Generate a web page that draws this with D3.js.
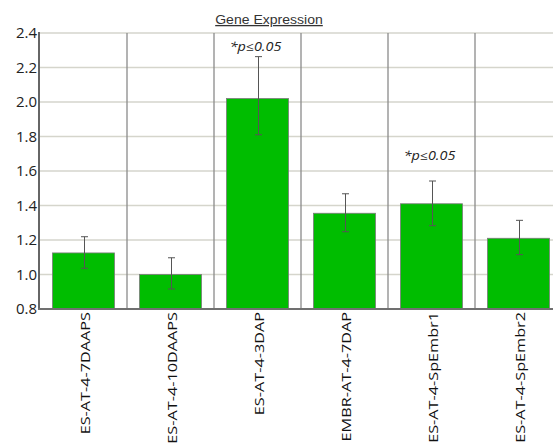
<!DOCTYPE html>
<html>
<head>
<meta charset="utf-8">
<script src="https://cdn.jsdelivr.net/npm/d3@7"></script>
<style>
  html, body { margin: 0; padding: 0; background: #fff; }
  svg { display: block; }
</style>
</head>
<body>
<svg id="chart" width="553" height="445"></svg>
<script>
// Relative expression per sample, with error bar bounds
const categories = ["ES-AT-4-7DAAPS", "ES-AT-4-10DAAPS", "ES-AT-4-3DAP", "EMBR-AT-4-7DAP", "ES-AT-4-SpEmbr1", "ES-AT-4-SpEmbr2"];
const expression = [1.125, 1.0, 2.02, 1.355, 1.41, 1.21];
const errorLow  = [1.036, 0.916, 1.81, 1.248, 1.283, 1.115];
const errorHigh = [1.219, 1.097, 2.263, 1.468, 1.542, 1.314];
const significance = ["", "", "*p\u22640.05", "", "*p\u22640.05", ""];
const significanceLevel = [null, null, 2.296, null, 1.664, null];
const yTicks = [0.8, 1.0, 1.2, 1.4, 1.6, 1.8, 2.0, 2.2, 2.4];
const chartTitle = "Gene Expression";

const svg = d3.select("#chart");
const plotLeft = 40, plotRight = 562, plotTop = 33, plotBottom = 309;

const x = d3.scaleBand()
  .domain(categories)
  .range([plotLeft, plotRight])
  .paddingInner(0.287)
  .paddingOuter(0.1435);

const y = d3.scaleLinear()
  .domain([0.8, 2.4])
  .range([plotBottom, plotTop]);

// horizontal gridlines
svg.append("g")
  .selectAll("line")
  .data(yTicks)
  .join("line")
  .attr("x1", plotLeft).attr("x2", 553)
  .attr("y1", d => y(d)).attr("y2", d => y(d))
  .attr("stroke", "#d5d5cc")
  .attr("stroke-width", 1.5);

// vertical separators between categories
svg.append("g")
  .selectAll("line")
  .data(categories.slice(1))
  .join("line")
  .attr("x1", d => x(d) - x.step() * x.paddingInner() / 2)
  .attr("x2", d => x(d) - x.step() * x.paddingInner() / 2)
  .attr("y1", plotTop).attr("y2", plotBottom)
  .attr("stroke", "#8a8a8a")
  .attr("stroke-width", 1.3);

// bars
svg.append("g")
  .selectAll("rect")
  .data(categories)
  .join("rect")
  .attr("x", d => x(d))
  .attr("width", x.bandwidth())
  .attr("y", (d, i) => y(expression[i]))
  .attr("height", (d, i) => y(0.8) - y(expression[i]))
  .attr("fill", "#00bd00")
  .attr("stroke", "#7a7a7a")
  .attr("stroke-width", 0.8);

// error bars
const eb = svg.append("g").attr("stroke", "#555").attr("stroke-width", 1).attr("fill", "none");
categories.forEach((c, i) => {
  const cx = Math.round(x(c) + x.bandwidth() / 2) + 0.5;
  eb.append("line").attr("x1", cx).attr("x2", cx).attr("y1", y(errorLow[i])).attr("y2", y(errorHigh[i]));
  eb.append("line").attr("x1", cx - 3.5).attr("x2", cx + 3.5).attr("y1", y(errorLow[i])).attr("y2", y(errorLow[i]));
  eb.append("line").attr("x1", cx - 3.5).attr("x2", cx + 3.5).attr("y1", y(errorHigh[i])).attr("y2", y(errorHigh[i]));
});

// axis lines
svg.append("line")
  .attr("x1", plotLeft - 1).attr("x2", plotLeft - 1).attr("y1", plotTop - 1).attr("y2", plotBottom + 1)
  .attr("stroke", "#666").attr("stroke-width", 2);
svg.append("line")
  .attr("x1", plotLeft - 2).attr("x2", 553).attr("y1", plotBottom).attr("y2", plotBottom)
  .attr("stroke", "#707070").attr("stroke-width", 2);

// y tick labels
svg.append("g")
  .selectAll("text")
  .data(yTicks)
  .join("text")
  .attr("x", 37)
  .attr("y", d => y(d))
  .attr("dy", "0.36em")
  .attr("text-anchor", "end")
  .attr("font-family", "'Open Sans', sans-serif")
  .attr("font-size", 15)
  .attr("fill", "#222")
  .text(d => d.toFixed(1));

// category labels, rotated
svg.append("g")
  .selectAll("text")
  .data(categories)
  .join("text")
  .attr("transform", d => `translate(${x(d) + x.bandwidth() / 2 + 1.5},312) rotate(-90) scale(1.3,1)`)
  .attr("dy", "0.36em")
  .attr("text-anchor", "end")
  .attr("font-family", "'Open Sans', sans-serif")
  .attr("font-size", 12.5)
  .attr("fill", "#111")
  .text(d => d);

// significance notes
svg.append("g")
  .selectAll("text")
  .data(categories.filter((c, i) => significance[i]))
  .join("text")
  .attr("transform", d => {
    const i = categories.indexOf(d);
    return `translate(${x(d) + x.bandwidth() / 2 - 2},${y(significanceLevel[i])}) scale(1.2,1)`;
  })
  .attr("text-anchor", "middle")
  .attr("font-family", "'Open Sans', sans-serif")
  .attr("font-style", "italic")
  .attr("font-size", 12)
  .attr("fill", "#222")
  .text(d => significance[categories.indexOf(d)]);

// title
svg.append("text")
  .attr("transform", "translate(269,24) scale(1.08,1)")
  .attr("text-anchor", "middle")
  .attr("font-family", "'Liberation Sans', Arial, sans-serif")
  .attr("font-size", 13)
  .attr("fill", "#333")
  .attr("text-decoration", "underline")
  .text(chartTitle);
</script>
</body>
</html>
